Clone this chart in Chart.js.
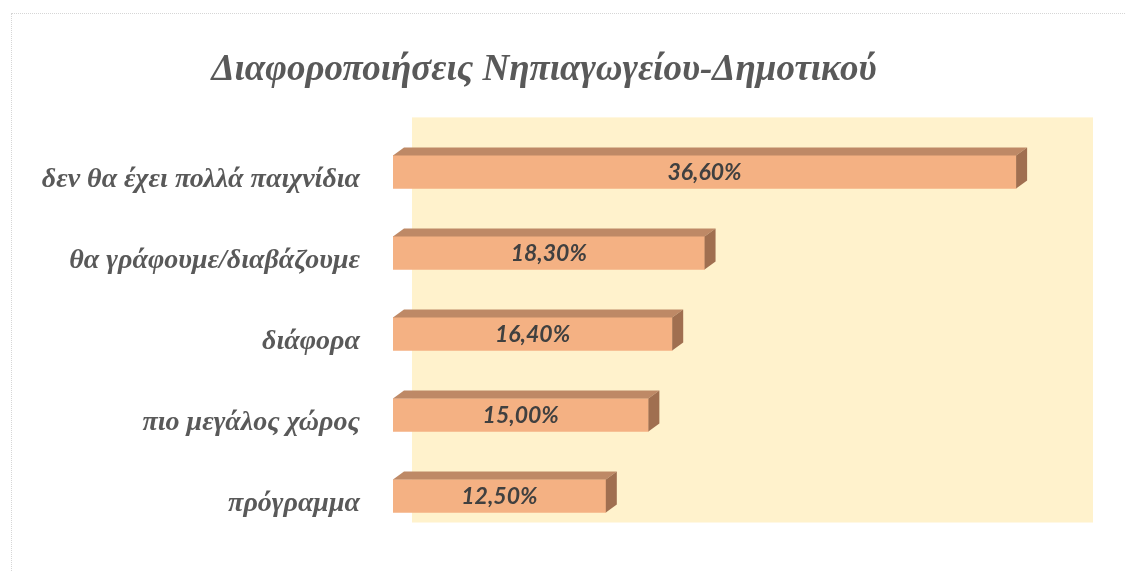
<!DOCTYPE html>
<html>
<head>
<meta charset="utf-8">
<script src="https://cdn.jsdelivr.net/npm/chart.js@4.4.1/dist/chart.umd.min.js"></script>
<style>
  html, body { margin: 0; padding: 0; overflow: hidden; background: #fff; }
  #frame {
    position: absolute; left: 11px; top: 13px;
    width: 1300px; height: 700px;
    border: 1px dotted #d6d6d6;
  }
  #wrap { position: absolute; left: 0; top: 0; width: 1126px; height: 571px; }
</style>
</head>
<body>
<div id="frame"></div>
<div id="wrap"><canvas id="chart" width="1126" height="571"></canvas></div>
<script>
// Data
const categories = [
    'δεν θα έχει πολλά παιχνίδια',
    'θα γράφουμε/διαβάζουμε',
    'διάφορα',
    'πιο μεγάλος χώρος',
    'πρόγραμμα'
];
const percentages = [36.6, 18.3, 16.4, 15.0, 12.5];
const axisMax = 40;

// Colours of the 3D bars
const frontColor = '#F4B183';
const topColor = '#BE8966';
const sideColor = '#A06F50';
const wallColor = '#FFF2CC';

// Depth offsets for the fake 3D look
const wallDx = 19, wallDy = 14;
const barDx = 11, barDy = 8;

// Back wall behind the bars
const backWall = {
    id: 'backWall',
    beforeDatasetsDraw(chart) {
        const a = chart.chartArea;
        const ctx = chart.ctx;
        ctx.save();
        ctx.fillStyle = wallColor;
        ctx.fillRect(a.left + wallDx, a.top - wallDy, a.right - a.left, a.bottom - a.top);
        ctx.restore();
    }
};

// Top and right faces of each bar, plus the value labels
const bars3d = {
    id: 'bars3d',
    afterDatasetsDraw(chart) {
        const ctx = chart.ctx;
        const meta = chart.getDatasetMeta(0);
        ctx.save();
        meta.data.forEach((bar, i) => {
            const p = bar.getProps(['x', 'y', 'base', 'height'], true);
            const x0 = p.base, x1 = p.x;
            const top = p.y - p.height / 2, bottom = p.y + p.height / 2;

            // top face
            ctx.fillStyle = topColor;
            ctx.beginPath();
            ctx.moveTo(x0, top);
            ctx.lineTo(x0 + barDx, top - barDy);
            ctx.lineTo(x1 + barDx, top - barDy);
            ctx.lineTo(x1, top);
            ctx.closePath();
            ctx.fill();

            // right face
            ctx.fillStyle = sideColor;
            ctx.beginPath();
            ctx.moveTo(x1, top);
            ctx.lineTo(x1 + barDx, top - barDy);
            ctx.lineTo(x1 + barDx, bottom - barDy);
            ctx.lineTo(x1, bottom);
            ctx.closePath();
            ctx.fill();

            // value label
            const txt = percentages[i].toFixed(2).replace('.', ',') + '%';
            ctx.fillStyle = '#404040';
            ctx.font = 'italic bold 23px Lato';
            ctx.textAlign = 'center';
            ctx.textBaseline = 'middle';
            ctx.fillText(txt, (x0 + x1) / 2, p.y + 1);
        });
        ctx.restore();
    }
};

const ctx = document.getElementById('chart').getContext('2d');
new Chart(ctx, {
    type: 'bar',
    data: {
        labels: categories,
        datasets: [{
            data: percentages,
            backgroundColor: frontColor,
            borderWidth: 0,
            barThickness: 33
        }]
    },
    options: {
        indexAxis: 'y',
        responsive: false,
        animation: false,
        layout: { padding: { top: 48, left: 14, right: 52, bottom: 34.5 } },
        scales: {
            x: { display: false, min: 0, max: axisMax },
            y: {
                grid: { display: false },
                border: { display: false },
                afterFit(scale) {
                    scale.width = 379;
                    scale.paddingTop = 0;
                    scale.paddingBottom = 0;
                },
                ticks: {
                    padding: 25,
                    labelOffset: 8,
                    color: '#595959',
                    font: { family: '"Liberation Serif"', size: 28, style: 'italic', weight: 'bold' }
                }
            }
        },
        plugins: {
            legend: { display: false },
            tooltip: { enabled: false },
            title: {
                display: true,
                text: 'Διαφοροποιήσεις Νηπιαγωγείου-Δημοτικού',
                color: '#595959',
                font: { family: '"Liberation Serif"', size: 37, style: 'italic', weight: 'bold', lineHeight: 1.2 },
                padding: { top: 0, bottom: 39 }
            }
        }
    },
    plugins: [backWall, bars3d]
});
</script>
</body>
</html>
